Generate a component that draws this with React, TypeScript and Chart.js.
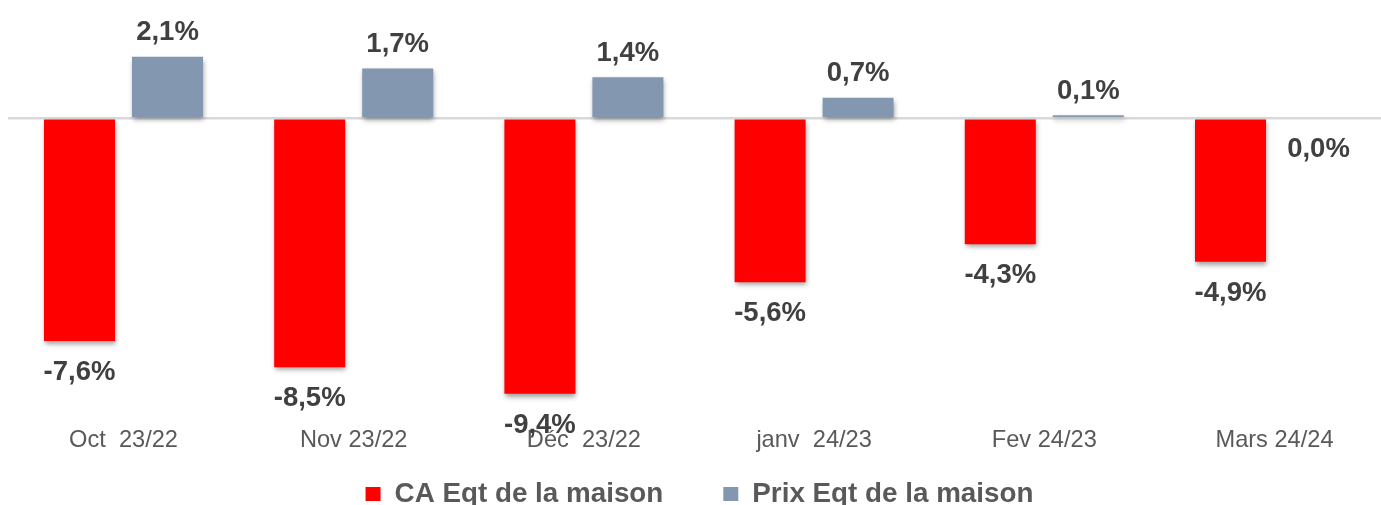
import React, { useEffect, useRef } from "react";
import { Chart, registerables } from "chart.js";

Chart.register(...registerables);

// ---- Data ----
const categories = ["Oct  23/22", "Nov 23/22", "Déc  23/22", "janv  24/23", "Fev 24/23", "Mars 24/24"];
const caValues = [-7.6, -8.5, -9.4, -5.6, -4.3, -4.9];
const prixValues = [2.1, 1.7, 1.4, 0.7, 0.1, 0.0];
const seriesNames = ["CA Eqt de la maison", "Prix Eqt de la maison"];
const seriesColors = ["#FF0000", "#8497B0"];

// ---- Styles ----
const FONT = '"Liberation Sans", Arial, Helvetica, sans-serif';
const CANVAS_W = 1399;
const CANVAS_H = 505;

const fmt = (v: number) => v.toFixed(1).replace(".", ",") + "%";

const shadowPlugin = {
  id: "barShadow",
  beforeDatasetsDraw(chart: any) {
    const ctx = chart.ctx;
    ctx.save();
    ctx.shadowColor = "rgba(0,0,0,0.38)";
    ctx.shadowBlur = 5;
    ctx.shadowOffsetX = 1;
    ctx.shadowOffsetY = 3;
  },
  afterDatasetsDraw(chart: any) {
    chart.ctx.restore();
  },
};

const labelsPlugin = {
  id: "valueLabels",
  afterDraw(chart: any) {
    const ctx = chart.ctx;
    ctx.save();
    ctx.font = `bold 27.5px ${FONT}`;
    ctx.fillStyle = "#404040";
    ctx.textAlign = "center";
    ctx.textBaseline = "alphabetic";
    chart.data.datasets.forEach((ds: any, di: number) => {
      const meta = chart.getDatasetMeta(di);
      meta.data.forEach((bar: any, i: number) => {
        const v = ds.data[i] as number;
        const y = v > 0 ? bar.y - 16.6 : bar.y + 39;
        ctx.fillText(fmt(v), bar.x, y);
      });
    });
    ctx.restore();
  },
};

const legendPlugin = {
  id: "customLegend",
  afterDraw(chart: any) {
    const ctx = chart.ctx;
    ctx.save();
    ctx.font = `bold 27.8px ${FONT}`;
    const boxW = 15;
    const boxH = 14;
    const textGap = 14;
    const itemGap = 60;
    const items = chart.data.datasets.map((ds: any) => ({
      text: ds.label as string,
      color: ds.backgroundColor as string,
      w: ctx.measureText(ds.label).width,
    }));
    const total =
      items.reduce((a: number, it: any) => a + boxW + textGap + it.w, 0) + itemGap * (items.length - 1);
    let x = chart.width / 2 - total / 2;
    const boxTop = 487;
    const baseline = 501.5;
    items.forEach((it: any) => {
      ctx.fillStyle = it.color;
      ctx.fillRect(x, boxTop, boxW, boxH);
      x += boxW + textGap;
      ctx.fillStyle = "#595959";
      ctx.textAlign = "left";
      ctx.textBaseline = "alphabetic";
      ctx.fillText(it.text, x, baseline);
      x += it.w + itemGap;
    });
    ctx.restore();
  },
};

export default function App() {
  const canvasRef = useRef<HTMLCanvasElement | null>(null);

  useEffect(() => {
    if (!canvasRef.current) return;
    const chart = new Chart(canvasRef.current, {
      type: "bar",
      data: {
        labels: categories,
        datasets: [
          {
            label: seriesNames[0],
            data: caValues,
            backgroundColor: seriesColors[0],
            borderWidth: 0,
            categoryPercentage: 0.7646,
            barPercentage: 0.807,
          },
          {
            label: seriesNames[1],
            data: prixValues,
            backgroundColor: seriesColors[1],
            borderWidth: 0,
            categoryPercentage: 0.7646,
            barPercentage: 0.807,
          },
        ],
      },
      options: {
        animation: false,
        responsive: false,
        maintainAspectRatio: false,
        devicePixelRatio: 1,
        layout: { padding: { left: 8.4, right: 9.4, top: 1, bottom: 50.7 } },
        plugins: {
          legend: { display: false },
          tooltip: { enabled: false },
          title: { display: false },
        },
        scales: {
          x: {
            grid: { display: false, drawTicks: false },
            border: { display: false },
            ticks: {
              color: "#595959",
              font: { family: FONT, size: 23.6 },
              padding: 0,
              autoSkip: false,
              maxRotation: 0,
              minRotation: 0,
            },
          },
          y: {
            min: -10.5,
            max: 4,
            border: { display: false },
            grid: { drawTicks: false, color: "#D9D9D9", lineWidth: 2.5 },
            ticks: { display: false },
            afterBuildTicks: (axis: any) => {
              axis.ticks = [{ value: 0 }];
            },
          },
        },
      },
      plugins: [shadowPlugin, labelsPlugin, legendPlugin],
    });
    return () => chart.destroy();
  }, []);

  return (
    <div
      style={{
        position: "fixed",
        left: 0,
        top: 0,
        width: 1381,
        height: 505,
        overflow: "hidden",
        background: "#ffffff",
      }}
    >
      <canvas
        ref={canvasRef}
        width={CANVAS_W}
        height={CANVAS_H}
        style={{ display: "block", width: CANVAS_W, height: CANVAS_H }}
      />
    </div>
  );
}
